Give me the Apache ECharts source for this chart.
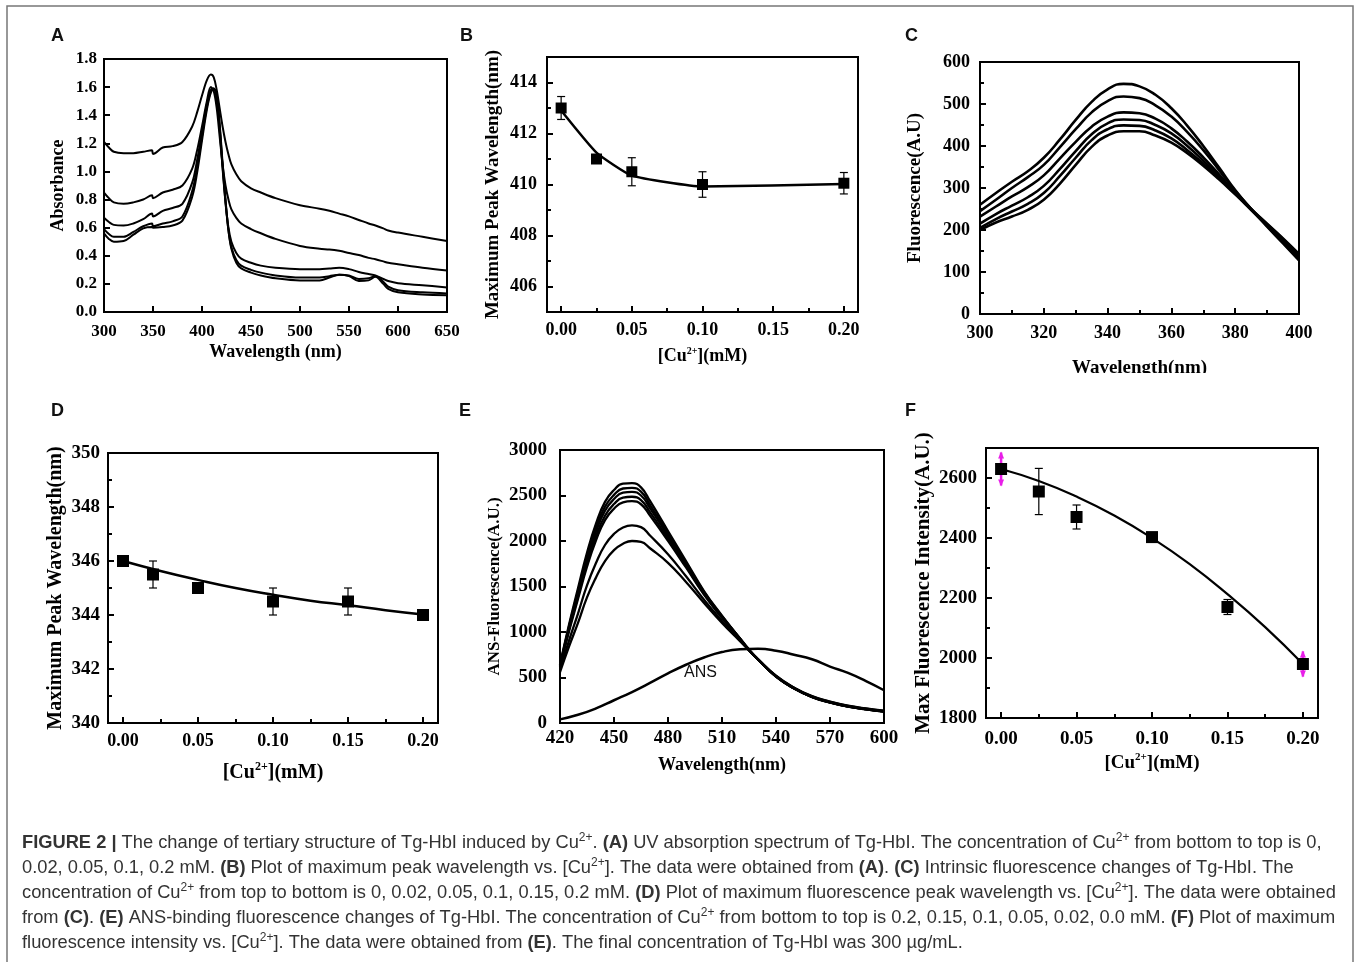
<!DOCTYPE html>
<html><head><meta charset="utf-8">
<script src="https://cdn.jsdelivr.net/npm/echarts@6/dist/echarts.min.js"></script>
<style>html,body{margin:0;padding:0;background:#fff}#c{width:1358px;height:962px}</style>
</head><body><div id="c"></div>
<script>
// ---------- Panel A: UV absorption ----------
const aX = [300,305,310,320,330,340,349,350,360,370,380,390,395,400,405,409,412,415,418,421,424,427,430,435,440,450,460,475,500,520,530,540,550,560,570,577,585,590,600,625,650];
const aCu02 = [1.21,1.17,1.14,1.13,1.13,1.14,1.15,1.125,1.17,1.18,1.21,1.32,1.42,1.54,1.65,1.69,1.67,1.58,1.45,1.32,1.21,1.12,1.05,0.98,0.93,0.88,0.85,0.81,0.76,0.735,0.72,0.70,0.68,0.655,0.63,0.615,0.595,0.58,0.565,0.535,0.505];
const aCu01 = [0.85,0.81,0.78,0.77,0.78,0.80,0.83,0.81,0.85,0.87,0.90,1.02,1.15,1.32,1.5,1.6,1.57,1.45,1.25,1.05,0.9,0.8,0.73,0.67,0.63,0.59,0.56,0.52,0.47,0.45,0.445,0.435,0.42,0.405,0.385,0.375,0.36,0.35,0.34,0.315,0.295];
const aCu005 = [0.67,0.64,0.62,0.615,0.63,0.66,0.70,0.68,0.72,0.74,0.77,0.92,1.08,1.28,1.48,1.58,1.59,1.52,1.3,1.02,0.78,0.6,0.5,0.42,0.38,0.35,0.33,0.315,0.305,0.305,0.31,0.315,0.305,0.285,0.27,0.26,0.235,0.22,0.205,0.19,0.175];
const aCu002 = [0.59,0.555,0.535,0.535,0.57,0.61,0.63,0.61,0.63,0.645,0.68,0.86,1.03,1.25,1.46,1.57,1.59,1.53,1.32,1.04,0.78,0.58,0.46,0.37,0.33,0.3,0.28,0.26,0.245,0.245,0.255,0.265,0.26,0.235,0.24,0.255,0.215,0.18,0.155,0.14,0.132];
const aCu0 = [0.56,0.52,0.50,0.505,0.55,0.595,0.605,0.6,0.605,0.615,0.65,0.82,0.99,1.22,1.44,1.56,1.585,1.54,1.34,1.06,0.8,0.58,0.45,0.35,0.31,0.28,0.26,0.24,0.225,0.225,0.245,0.265,0.255,0.22,0.225,0.25,0.2,0.165,0.14,0.125,0.12];

// ---------- Panel B: max peak wavelength (UV) ----------
const bX = [0, 0.025, 0.05, 0.1, 0.2];
const bY = [413, 411, 410.5, 410, 410.05];
const bErr = [0.45, 0, 0.55, 0.5, 0.42];
const bFitX = [0, 0.025, 0.05, 0.1, 0.2];
const bFitY = [412.9, 411.25, 410.35, 409.92, 410.02];

// ---------- Panel C: intrinsic fluorescence ----------
const cX = [300,305,310,315,320,325,330,335,340,345,350,355,360,365,370,375,380,385,390,395,400];
const cCu0   = [260,288,315,340,372,415,462,505,535,548,542,522,490,448,400,348,295,250,208,168,128];
const cCu002 = [245,272,300,326,355,397,440,480,507,518,514,497,470,433,390,342,293,250,210,170,130];
const cCu005 = [232,256,280,302,330,370,410,446,470,480,478,465,442,410,373,332,288,248,210,172,133];
const cCu01  = [215,238,258,278,305,345,388,428,454,463,462,450,430,400,365,328,287,248,212,176,138];
const cCu015 = [205,226,244,262,288,328,372,414,440,449,448,437,418,390,358,324,286,249,214,178,140];
const cCu02  = [200,218,232,248,272,310,355,398,425,435,435,425,408,383,353,320,285,250,215,180,143];

// ---------- Panel D: max fluorescence peak wavelength ----------
const dX = [0, 0.02, 0.05, 0.1, 0.15, 0.2];
const dY = [346, 345.5, 345, 344.5, 344.5, 344];
const dErr = [0, 0.5, 0, 0.5, 0.5, 0];
const dFitX = [0, 0.025, 0.05, 0.075, 0.1, 0.125, 0.15, 0.175, 0.2];
const dFitY = [346.0, 345.63, 345.3, 345.0, 344.75, 344.53, 344.36, 344.18, 344.02];

// ---------- Panel E: ANS fluorescence ----------
const eX = [420,425,430,435,440,445,450,455,460,465,470,480,490,500,510,520,525,530,540,550,560,570,580,590,600];
const eCurve1 = [640,1080,1480,1870,2190,2430,2560,2630,2635,2590,2440,2110,1780,1450,1180,930,810,700,510,380,285,225,180,150,125];
const eCurve2 = [634,1061,1450,1831,2143,2378,2507,2577,2584,2542,2398,2082,1762,1440,1174,928,800,700,511,381,286,226,181,151,126];
const eCurve3 = [628,1044,1423,1797,2102,2333,2461,2531,2540,2500,2362,2058,1746,1431,1168,926,800,700,512,382,287,227,182,152,127];
const eCurve4 = [621,1024,1391,1755,2052,2278,2406,2476,2486,2450,2318,2028,1726,1420,1161,923,800,700,512,382,287,227,182,152,127];
const eCurve5 = [615,1006,1362,1718,2007,2229,2355,2425,2438,2404,2279,2002,1709,1410,1155,921,800,700,513,383,288,228,183,153,128];
const eCurve6 = [582,905,1203,1512,1759,1956,2078,2148,2171,2152,2060,1855,1612,1355,1122,908,800,700,517,387,292,232,187,157,132];
const eCurve7 = [560,840,1100,1380,1600,1780,1900,1970,2000,1990,1920,1760,1550,1320,1100,900,800,700,520,390,295,235,190,160,135];
const ansX = [420,430,440,450,460,470,480,490,500,510,520,530,540,550,560,570,580,590,600];
const ansY = [40,90,160,250,340,440,545,640,720,780,810,815,795,750,700,620,550,460,360];

// ---------- Panel F: max fluorescence intensity ----------
const fX = [0, 0.025, 0.05, 0.1, 0.15, 0.2];
const fY = [2630, 2555, 2470, 2403, 2170, 1980];
const fErr = [55, 77, 40, 12, 25, 42];
const fFitX = [0, 0.025, 0.05, 0.075, 0.1, 0.125, 0.15, 0.175, 0.2];
const fFitY = [2630, 2590, 2538, 2475, 2400, 2313, 2213, 2103, 1980];

// ---------- Caption ----------
const captionLines = [
  '{b|FIGURE 2 |} The change of tertiary structure of Tg-HbI induced by Cu{s|2+}. {b|(A)} UV absorption spectrum of Tg-HbI. The concentration of Cu{s|2+} from bottom to top is 0,',
  '0.02, 0.05, 0.1, 0.2 mM. {b|(B)} Plot of maximum peak wavelength vs. [Cu{s|2+}]. The data were obtained from {b|(A)}. {b|(C)} Intrinsic fluorescence changes of Tg-HbI. The',
  'concentration of Cu{s|2+} from top to bottom is 0, 0.02, 0.05, 0.1, 0.15, 0.2 mM. {b|(D)} Plot of maximum fluorescence peak wavelength vs. [Cu{s|2+}]. The data were obtained',
  'from {b|(C)}. {b|(E)} ANS-binding fluorescence changes of Tg-HbI. The concentration of Cu{s|2+} from bottom to top is 0.2, 0.15, 0.1, 0.05, 0.02, 0.0 mM. {b|(F)} Plot of maximum',
  'fluorescence intensity vs. [Cu{s|2+}]. The data were obtained from {b|(E)}. The final concentration of Tg-HbI was 300 \u00b5g/mL.'
];
const panelLetters = ['A','B','C','D','E','F'];

// ================= build =================
const serif = '"Liberation Serif","Times New Roman",serif';
const sans = '"Liberation Sans",Arial,Helvetica,sans-serif';
const pair = (xs, ys) => xs.map((x, i) => [x, ys[i]]);

const grids = [
  {left:104, top:59, width:343, height:253},
  {left:547, top:57, width:311, height:255},
  {left:980, top:62, width:319, height:252},
  {left:108, top:453, width:330, height:270},
  {left:560, top:450, width:324, height:273},
  {left:986, top:448, width:332, height:270}
].map(g => Object.assign({show:true, borderColor:'#000', borderWidth:2, backgroundColor:'transparent', containLabel:false}, g));

function ax(gi, o) {
  const a = {
    type:'value', gridIndex:gi, min:o.min, max:o.max, scale:true,
    axisLine:{show:true, onZero:false, lineStyle:{color:'#000', width:2}},
    axisTick:{show:true, inside:true, length:6, lineStyle:{color:'#000', width:2}},
    minorTick:{show:!!o.minor, splitNumber:2, length:4, lineStyle:{color:'#000', width:2}},
    splitLine:{show:false}, minorSplitLine:{show:false},
    axisLabel:{color:'#000', fontFamily:serif, fontWeight:'bold', fontSize:o.fs, margin:o.margin,
      formatter:o.fmt, showMinLabel:o.showMin !== false, showMaxLabel:o.showMax !== false},
    name:o.name, nameLocation:'middle', nameGap:o.gap,
    nameTextStyle:{color:'#000', fontFamily:serif, fontWeight:'bold', fontSize:o.nfs, lineHeight:o.nfs + 3,
      rich:{s:{fontSize:Math.round(o.nfs*0.58), fontFamily:serif, fontWeight:'bold', color:'#000', verticalAlign:'top', lineHeight:Math.round(o.nfs*0.58)}}}
  };
  if (o.interval != null) a.interval = o.interval;
  if (o.nice != null) { a.minInterval = o.nice; a.maxInterval = o.nice; }
  return a;
}
const f1 = v => v.toFixed(1), f2 = v => v.toFixed(2), f0 = v => String(Math.round(v));

const xAxes = [
  ax(0, {min:300, max:650, interval:50, fs:17, margin:11, fmt:f0, name:'Wavelength (nm)', gap:30, nfs:18}),
  ax(1, {min:-0.01, max:0.21, nice:0.05, minor:true, fs:18, margin:9, fmt:f2, showMin:false, showMax:false, name:'[Cu{s|2+}](mM)', gap:34, nfs:18}),
  ax(2, {min:300, max:400, interval:20, minor:true, fs:18, margin:10, fmt:f0, name:'Wavelength(nm)', gap:43, nfs:19}),
  ax(3, {min:-0.01, max:0.21, nice:0.05, minor:true, fs:18, margin:9, fmt:f2, showMin:false, showMax:false, name:'[Cu{s|2+}](mM)', gap:38, nfs:20}),
  ax(4, {min:420, max:600, interval:30, fs:19, margin:6, fmt:f0, name:'Wavelength(nm)', gap:32, nfs:18}),
  ax(5, {min:-0.01, max:0.21, nice:0.05, minor:true, fs:19, margin:12, fmt:f2, showMin:false, showMax:false, name:'[Cu{s|2+}](mM)', gap:34, nfs:19})
];
const yAxes = [
  ax(0, {min:0, max:1.8, interval:0.2, fs:17, margin:7, fmt:f1, name:'Absorbance', gap:35, nfs:18}),
  ax(1, {min:405, max:415, nice:2, minor:true, fs:18, margin:10, fmt:f0, showMin:false, showMax:false, name:'Maximum Peak Wavelength(nm)', gap:43, nfs:19}),
  ax(2, {min:0, max:600, interval:100, minor:true, fs:18, margin:10, fmt:f0, name:'Fluorescence(A.U)', gap:54, nfs:19}),
  ax(3, {min:340, max:350, interval:2, minor:true, fs:19, margin:8, fmt:f0, name:'Maximum Peak Wavelength(nm)', gap:41, nfs:20}),
  ax(4, {min:0, max:3000, interval:500, fs:19, margin:13, fmt:f0, name:'ANS-Fluorescence(A.U.)', gap:55, nfs:17}),
  ax(5, {min:1800, max:2700, nice:200, minor:true, fs:19, margin:9, fmt:f0, showMax:false, name:'Max Fluorescence Intensity(A.U.)', gap:49, nfs:21})
];

function lineS(gi, data, w, smooth) {
  return {type:'line', xAxisIndex:gi, yAxisIndex:gi, data, showSymbol:false, symbol:'none',
    smooth: smooth, clip:true, lineStyle:{color:'#000', width:w}, z:2, silent:true};
}
function squares(gi, xs, ys, size) {
  return {type:'scatter', xAxisIndex:gi, yAxisIndex:gi, data:pair(xs, ys), symbol:'rect', symbolSize:size,
    itemStyle:{color:'#000', opacity:1}, z:5, silent:true};
}
function errBars(gi, xs, ys, errs, magentaEnds) {
  return {type:'custom', xAxisIndex:gi, yAxisIndex:gi, z:4, silent:true,
    data: xs.map((x, i) => [x, ys[i], errs[i]]),
    renderItem(params, api) {
      const x = api.value(0), y = api.value(1), e = api.value(2);
      if (!e) return null;
      const t = api.coord([x, y + e]), b = api.coord([x, y - e]);
      const last = params.dataIndex === xs.length - 1;
      const mag = magentaEnds && (params.dataIndex === 0 || last);
      const col = mag ? '#e81ee8' : '#000';
      const w = 4;
      const ch = [
        {type:'line', shape:{x1:t[0], y1:t[1], x2:b[0], y2:b[1]}, style:{stroke:col, lineWidth: mag ? 2.5 : 1.2}}
      ];
      if (mag) {
        ch.push({type:'polygon', shape:{points:[[t[0]-3, t[1]+6],[t[0], t[1]-1],[t[0]+3, t[1]+6]]}, style:{fill:col}});
        ch.push({type:'polygon', shape:{points:[[b[0]-3, b[1]-6],[b[0], b[1]+1],[b[0]+3, b[1]-6]]}, style:{fill:col}});
      } else {
        ch.push({type:'line', shape:{x1:t[0]-w, y1:t[1], x2:t[0]+w, y2:t[1]}, style:{stroke:col, lineWidth:1.2}});
        ch.push({type:'line', shape:{x1:b[0]-w, y1:b[1], x2:b[0]+w, y2:b[1]}, style:{stroke:col, lineWidth:1.2}});
      }
      return {type:'group', children:ch};
    }};
}

const series = [];
[aCu0, aCu002, aCu005, aCu01, aCu02].forEach(arr => series.push(lineS(0, pair(aX, arr), 2, 0.35)));
series.push(lineS(1, pair(bFitX, bFitY), 2.5, 0.15));
series.push(errBars(1, bX, bY, bErr, false));
series.push(squares(1, bX, bY, 11));
[cCu0, cCu002, cCu005, cCu01, cCu015, cCu02].forEach(arr => series.push(lineS(2, pair(cX, arr), 2.6, 0.5)));
series.push(lineS(3, pair(dFitX, dFitY), 2.5, 0.5));
series.push(errBars(3, dX, dY, dErr, false));
series.push(squares(3, dX, dY, 12));
[eCurve1, eCurve2, eCurve3, eCurve4, eCurve5, eCurve6, eCurve7].forEach(arr => series.push(lineS(4, pair(eX, arr), 2.3, 0.5)));
series.push(lineS(4, pair(ansX, ansY), 2.5, 0.5));
series.push(lineS(5, pair(fFitX, fFitY), 2.2, 0.5));
series.push(errBars(5, fX, fY, fErr, true));
series.push(squares(5, fX, fY, 12));

const letterPos = [[51,27],[460,27],[905,27],[51,402],[459,402],[905,402]];
const graphic = [
  {type:'rect', shape:{x:7, y:6, width:1346, height:1000}, style:{fill:'none', stroke:'#777', lineWidth:1.5}, silent:true}
];
panelLetters.forEach((L, i) => graphic.push({type:'text', left:letterPos[i][0], top:letterPos[i][1],
  style:{text:L, font:'bold 18px ' + sans, fill:'#111'}}));
graphic.push({type:'text', left:684, top:665, style:{text:'ANS', font:'16px ' + sans, fill:'#111'}});
// the reference crops the bottom of panel C's x-axis title
graphic.push({type:'rect', shape:{x:1000, y:373, width:300, height:14}, style:{fill:'#fff'}, z:100, silent:true});
captionLines.forEach((line, i) => graphic.push({type:'text', left:22, top:832 + i*25,
  style:{text:line, fontFamily:sans, fontSize:18.3, fill:'#333', lineHeight:22,
    rich:{b:{fontFamily:sans, fontSize:18.3, fontWeight:'bold', fill:'#333', lineHeight:22},
          s:{fontFamily:sans, fontSize:12, fill:'#333', verticalAlign:'top', lineHeight:12}}}}));

const chart = echarts.init(document.getElementById('c'), null, {renderer:'canvas'});
chart.setOption({animation:false, backgroundColor:'#fff', grid:grids, xAxis:xAxes, yAxis:yAxes, series, graphic});
</script></body></html>
